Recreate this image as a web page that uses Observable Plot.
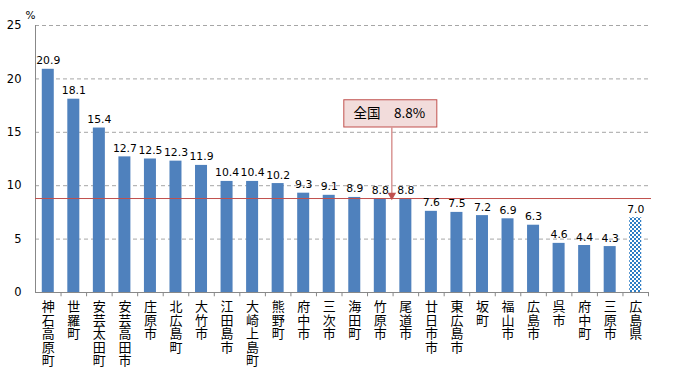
<!DOCTYPE html>
<html><head><meta charset="utf-8">
<script src="https://cdn.jsdelivr.net/npm/d3@7"></script>
<script src="https://cdn.jsdelivr.net/npm/@observablehq/plot@0.6"></script>
<style>
body{margin:0;background:#fff;}
#chart{width:678px;height:374px;}
</style>
</head><body><div id="chart"></div>
<script>
const categories = ["神石高原町","世羅町","安芸太田町","安芸高田市","庄原市","北広島町","大竹市","江田島市","大崎上島町","熊野町","府中市","三次市","海田町","竹原市","尾道市","廿日市市","東広島市","坂町","福山市","広島市","呉市","府中町","三原市","広島県"];
const values = [20.9,18.1,15.4,12.7,12.5,12.3,11.9,10.4,10.4,10.2,9.3,9.1,8.9,8.8,8.8,7.6,7.5,7.2,6.9,6.3,4.6,4.4,4.3,7.0];
const prefectureName = "広島県";
const nationalValue = 8.8;
const nationalLabel = "全国　8.8%";
const nationalAnchor = "竹原市";
const yTicks = [0,5,10,15,20,25];
const unitLabel = "%";

const data = categories.map((name, i) => ({name, value: values[i]}));
const munis = data.filter(d => d.name !== prefectureName);
const pref = data.filter(d => d.name === prefectureName);

const W = 678, H = 374;
const mL = 35, mR = 30, mT = 25, mB = 82;
const step = (W - mL - mR) / categories.length;
const numFont = "DejaVu Sans, Verdana, sans-serif";
const cjkFont = "Noto Sans CJK JP, sans-serif";

const chart = Plot.plot({
  width: W, height: H,
  marginLeft: mL, marginRight: mR, marginTop: mT, marginBottom: mB,
  style: {fontFamily: numFont, color: "#000", background: "#fff"},
  x: {domain: categories, paddingInner: 0.53, paddingOuter: 0.265, round: false, axis: null},
  y: {domain: [0, 25], axis: null},
  marks: [
    Plot.ruleY(yTicks.filter(d => d > 0), {stroke: "#a6a6a6", strokeDasharray: "4,3"}),
    Plot.axisY(yTicks, {tickSize: 0, tickPadding: 14, fontSize: 11.5, fontFamily: numFont, label: null}),
    Plot.text([unitLabel], {frameAnchor: "top-left", dx: -10, dy: -14, fontSize: 10.5}),
    Plot.barY(munis, {x: "name", y: "value", fill: "#4f81bd"}),
    Plot.barY(pref, {x: "name", y: "value", fill: "url(#checker)"}),
    Plot.ruleY([0], {stroke: "#888"}),
    Plot.ruleX([categories[0]], {y1: 0, y2: 25, dx: -step / 2, stroke: "#888"}),
    Plot.ruleX(categories, {y1: 0, y2: -0.4, dx: step / 2, stroke: "#888"}),
    Plot.ruleY([nationalValue], {stroke: "#c0504d", insetRight: -3}),
    Plot.text(data, {x: "name", y: "value", text: d => d.value.toFixed(1), lineAnchor: "bottom", dy: -5, fontSize: 10.8}),
    Plot.text(data, {x: "name", y: () => 0, text: d => [...d.name].join("\n"), lineAnchor: "top", dy: 9, lineHeight: 1.04, fontSize: 13, fontFamily: cjkFont}),
    Plot.barY([{name: nationalAnchor}], {x: "name", y1: () => 15.45, y2: () => 18.0, insetLeft: -30, insetRight: -51, fill: "#f2dcdb", stroke: "#c0504d"}),
    Plot.text([{name: nationalAnchor}], {x: "name", y: () => 16.72, text: () => nationalLabel, dx: 9, fontSize: 13.5, fontFamily: cjkFont}),
    Plot.ruleX([{name: nationalAnchor}], {x: "name", y1: () => nationalValue + 0.3, y2: () => 15.45, dx: 11.5, stroke: "#d99694", strokeWidth: 1.5}),
    Plot.dot([{name: nationalAnchor}], {x: "name", y: () => nationalValue + 0.3, dx: 11.5, symbol: "triangle", rotate: 180, r: 3.2, fill: "#c0504d", stroke: "none"})
  ]
});

const defs = d3.select(chart).insert("defs", ":first-child");
const pat = defs.append("pattern").attr("id", "checker").attr("patternUnits", "userSpaceOnUse")
  .attr("width", 4).attr("height", 4);
pat.append("rect").attr("width", 4).attr("height", 4).attr("fill", "#fff");
pat.append("rect").attr("width", 2).attr("height", 2).attr("fill", "#2e7dc4");
pat.append("rect").attr("x", 2).attr("y", 2).attr("width", 2).attr("height", 2).attr("fill", "#2e7dc4");

document.getElementById("chart").appendChild(chart);
</script>
</body></html>
